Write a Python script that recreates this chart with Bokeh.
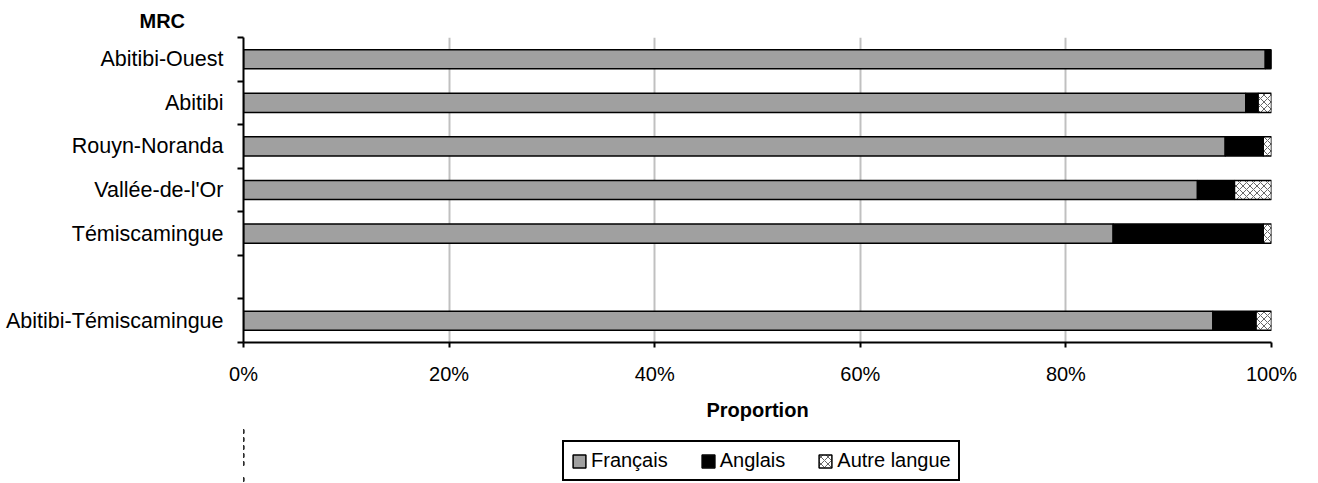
from bokeh.plotting import figure
from bokeh.layouts import column
from bokeh.models import (Range1d, FixedTicker, PrintfTickFormatter, Legend, LegendItem,
                          Title, ColumnDataSource)
from bokeh.embed import file_html
from bokeh.resources import INLINE

# ---- data (percent) ----
categories = ["Abitibi-Ouest", "Abitibi", "Rouyn-Noranda", "Vallée-de-l'Or",
              "Témiscamingue", "", "Abitibi-Témiscamingue"]
francais = [99.4, 97.5, 95.5, 92.8, 84.6, None, 94.3]
anglais = [0.6, 1.2, 3.7, 3.6, 14.6, None, 4.2]
autre = [0.0, 1.3, 0.8, 3.6, 0.8, None, 1.5]
series_names = ["Français", "Anglais", "Autre langue"]
x_ticks = [0, 20, 40, 60, 80, 100]

FONT = "Liberation Sans"

rows = [i for i, v in enumerate(francais) if v is not None]
ypos = [i + 0.5 for i in rows]
f = [francais[i] for i in rows]
a = [anglais[i] for i in rows]
o = [autre[i] for i in rows]
f_end = f
a_end = [f[k] + a[k] for k in range(len(rows))]
o_end = [a_end[k] + o[k] for k in range(len(rows))]
src = ColumnDataSource(dict(y=ypos, zero=[0] * len(rows), f_end=f_end,
                            a_end=a_end, o_end=o_end))

styles = [dict(fill_color="#a0a0a0", line_color="black", line_width=1.5),
          dict(fill_color="black", line_color="black", line_width=1.5),
          dict(fill_color="white", line_color="black", line_width=1.5,
               hatch_pattern="diagonal_cross", hatch_color="black",
               hatch_scale=7, hatch_weight=0.6)]
spans = [("zero", "f_end"), ("f_end", "a_end"), ("a_end", "o_end")]

p = figure(width=1310, height=427, output_backend="svg", toolbar_location=None,
           x_range=Range1d(0, 100), y_range=Range1d(len(categories), 0),
           min_border_left=243, min_border_right=39, min_border_top=37,
           min_border_bottom=85)
p.outline_line_color = None
p.background_fill_color = "white"

H = 0.44
for (lft, rgt), st in zip(spans, styles):
    p.hbar(y="y", left=lft, right=rgt, height=H, source=src, **st)

# x axis
p.xaxis.ticker = FixedTicker(ticks=x_ticks)
p.xaxis.formatter = PrintfTickFormatter(format="%d%%")
p.xaxis.axis_line_width = 2
p.xaxis.axis_line_color = "black"
p.xaxis.major_tick_in = 0
p.xaxis.major_tick_out = 5
p.xaxis.major_tick_line_width = 2
p.xaxis.minor_tick_line_color = None
p.xaxis.major_label_text_font = FONT
p.xaxis.major_label_text_font_size = "20px"
p.xaxis.major_label_text_color = "black"
p.xaxis.major_label_standoff = 15
p.xaxis.axis_label = "Proportion"
p.xaxis.axis_label_text_font = FONT
p.xaxis.axis_label_text_font_size = "20px"
p.xaxis.axis_label_text_font_style = "bold"
p.xaxis.axis_label_text_color = "black"
p.xaxis.axis_label_standoff = 11

# y axis: labels at centers, ticks at boundaries
p.yaxis.ticker = FixedTicker(ticks=[i + 0.5 for i in range(len(categories))],
                             minor_ticks=list(range(len(categories) + 1)))
p.yaxis.major_label_overrides = {i + 0.5: c for i, c in enumerate(categories)}
p.yaxis.major_tick_line_color = None
p.yaxis.major_tick_in = 0
p.yaxis.major_tick_out = 0
p.yaxis.minor_tick_in = 0
p.yaxis.minor_tick_out = 6
p.yaxis.minor_tick_line_color = "black"
p.yaxis.minor_tick_line_width = 2
p.yaxis.axis_line_width = 2
p.yaxis.axis_line_color = "black"
p.yaxis.major_label_text_font = FONT
p.yaxis.major_label_text_font_size = "21.5px"
p.yaxis.major_label_text_color = "black"
p.yaxis.major_label_standoff = 14

p.xgrid.ticker = FixedTicker(ticks=x_ticks)
p.xgrid.grid_line_color = "#c0c0c0"
p.xgrid.grid_line_width = 2
p.ygrid.grid_line_color = None

title = Title(text="MRC", text_font=FONT, text_font_size="20px", text_font_style="bold",
              text_color="black", align="left", offset=-104, standoff=12)
p.add_layout(title, "above")

# legend strip below the chart (its bars fall far outside its own view range)
lg = figure(width=1310, height=56, output_backend="svg", toolbar_location=None,
            x_range=Range1d(200, 300), y_range=Range1d(len(categories), 0),
            x_axis_location=None, y_axis_location=None, min_border=0)
lg.outline_line_color = None
lg.grid.visible = False
items = []
for name, (lft, rgt), st in zip(series_names, spans, styles):
    r = lg.hbar(y="y", left=lft, right=rgt, height=H, source=src, **st)
    items.append(LegendItem(label=name, renderers=[r], index=0))
legend = Legend(items=items, orientation="horizontal", location=(319, 2),
                label_text_font=FONT, label_text_font_size="20px",
                label_text_color="black", label_height=20,
                glyph_width=16, glyph_height=16, label_standoff=4, spacing=32,
                padding=7, border_line_color="black", border_line_width=2,
                border_line_alpha=1, background_fill_alpha=1, margin=0)
lg.add_layout(legend, "center")

layout = column(p, lg, spacing=0)
open("out.html", "w").write(file_html(layout, INLINE))
